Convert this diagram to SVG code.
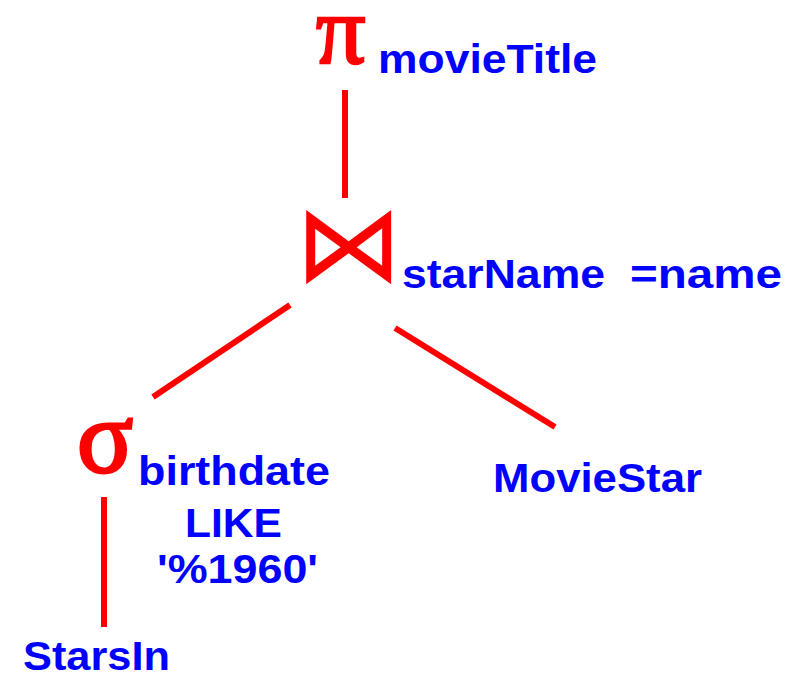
<svg xmlns="http://www.w3.org/2000/svg" width="789" height="678" viewBox="0 0 789 678">
<style>
.lbl{font-family:"Liberation Sans",Arial,sans-serif;font-weight:bold;font-size:41px;fill:#0000ff}
.op{font-family:"Liberation Serif","DejaVu Serif",serif;fill:#ff0000;stroke:#ff0000}
.edge{stroke:#ff0000;stroke-width:6;stroke-linecap:butt;fill:none}
</style>
<rect width="789" height="678" fill="#ffffff"/>
<g id="connectors">
<line class="edge" x1="345" y1="90" x2="345" y2="198"/>
<line class="edge" x1="153" y1="397" x2="290" y2="305"/>
<line class="edge" x1="395" y1="328" x2="555" y2="427"/>
<line class="edge" x1="104" y1="497" x2="104" y2="627"/>
</g>
<g id="node-project">
<text class="op" x="316" y="63" font-size="98" stroke-width="2.5">π</text>
<text class="lbl" x="378" y="73" textLength="219" lengthAdjust="spacingAndGlyphs">movieTitle</text>
</g>
<g id="node-join">
<text x="349" y="281" text-anchor="middle" font-family="DejaVu Sans,sans-serif" font-size="108" fill="#ff0000">⋈</text>
<text class="lbl" y="288"><tspan x="402" textLength="203" lengthAdjust="spacingAndGlyphs">starName</tspan><tspan x="630" textLength="152" lengthAdjust="spacingAndGlyphs">=name</tspan></text>
</g>
<g id="node-select">
<text class="op" x="77" y="472" font-size="104" stroke-width="3">σ</text>
<text class="lbl" x="138" y="485" textLength="192" lengthAdjust="spacingAndGlyphs">birthdate</text>
<text class="lbl" x="185" y="537" textLength="97" lengthAdjust="spacingAndGlyphs">LIKE</text>
<text class="lbl" x="157" y="583" textLength="161" lengthAdjust="spacingAndGlyphs">'%1960'</text>
</g>
<g id="node-starsin">
<text class="lbl" x="23" y="670" font-size="39" textLength="147" lengthAdjust="spacingAndGlyphs">StarsIn</text>
</g>
<g id="node-moviestar">
<text class="lbl" x="493" y="492" textLength="209" lengthAdjust="spacingAndGlyphs">MovieStar</text>
</g>
</svg>
